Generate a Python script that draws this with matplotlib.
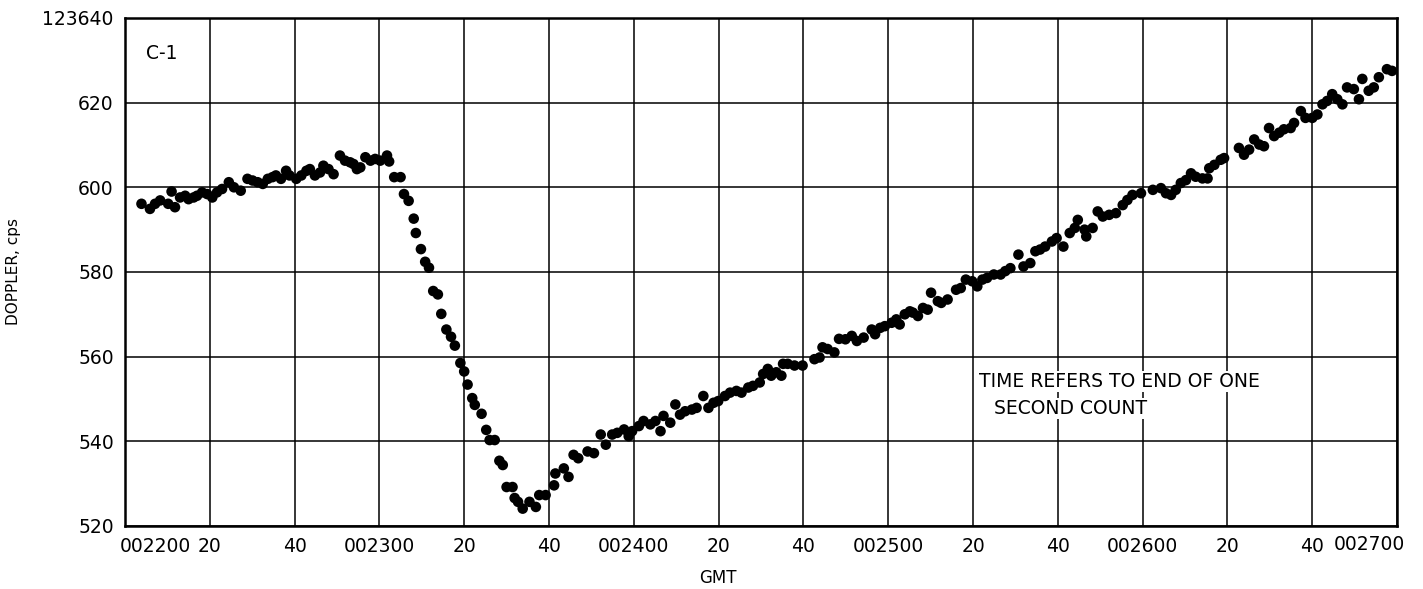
import numpy as np
import matplotlib
matplotlib.use("Agg")
import matplotlib.pyplot as plt
import matplotlib.transforms as mtransforms

# =====================
# data: seconds after 002200 GMT, doppler (cps, offset 123xxx)
# =====================
t_a = [3.9, 5.9, 7.1, 8.3, 11.0, 10.2, 11.8, 13.0, 14.2, 15.0, 16.2, 17.0, 18.2, 19.4,
       20.6, 21.7, 22.9, 24.5, 25.7, 27.3, 28.9, 30.1, 31.3, 32.5, 33.7, 34.8, 35.6,
       36.8, 38.0, 38.8, 40.4, 41.6, 42.8, 43.6, 44.8, 46.0, 46.8, 48.0, 49.2, 50.7,
       51.9, 53.1, 53.9, 54.7, 55.5, 56.7, 57.9, 59.0, 60.2, 61.8]
v_a = [596.1, 594.9, 596.1, 596.9, 599.0, 596.1, 595.3, 597.6, 598.0, 597.2, 597.6, 598.0, 598.8, 598.4,
       597.6, 598.8, 599.6, 601.2, 600.0, 599.2, 602.0, 601.6, 601.2, 600.8, 602.0, 602.4, 602.8,
       602.0, 603.9, 602.8, 602.0, 602.8, 603.9, 604.3, 602.8, 603.5, 605.1, 604.3, 603.1, 607.5,
       606.3, 605.9, 605.5, 604.3, 604.7, 607.1, 606.3, 606.7, 606.3, 607.5]

t_b = [62.3, 63.5, 65.0, 65.8, 66.9, 68.1, 68.6, 69.8, 70.8, 71.7, 72.7, 73.8, 74.6, 75.8,
       76.9, 77.8, 79.1, 80.0, 80.8, 81.9, 82.5, 84.1, 85.2, 86.0, 87.2, 88.3, 89.1, 90.0,
       91.4, 91.9, 92.7, 93.8, 95.4, 96.9, 97.7, 99.2, 101.2, 101.5, 103.5, 104.6, 105.8, 106.9]
v_b = [606.1, 602.4, 602.4, 598.4, 596.8, 592.6, 589.2, 585.4, 582.4, 581.0, 575.5, 574.7, 570.1, 566.4,
       564.7, 562.6, 558.5, 556.5, 553.4, 550.2, 548.6, 546.5, 542.7, 540.3, 540.3, 535.4, 534.4, 529.2,
       529.2, 526.6, 525.7, 524.1, 525.7, 524.5, 527.3, 527.3, 529.6, 532.4, 533.6, 531.6, 536.8, 536.0]

t_c = [109.1, 110.6, 112.2, 113.4, 114.9, 116.1, 117.7, 118.8, 119.6, 121.2, 122.3, 123.9, 125.1,
       126.3, 127.0, 128.6, 129.8, 130.9, 132.1, 133.7, 134.8, 136.4, 137.6, 138.8, 139.9, 141.5,
       142.7, 144.2, 145.4, 147.0, 148.1, 149.7, 150.5, 151.6, 152.4, 153.6, 154.8, 155.2, 156.3,
       157.9, 159.8, 162.6, 163.8, 164.5, 165.7, 167.3, 168.4]
v_c = [537.6, 537.2, 541.6, 539.2, 541.6, 542.0, 542.8, 541.2, 542.4, 543.6, 544.8, 544.0, 544.8,
       542.4, 546.0, 544.4, 548.7, 546.3, 547.1, 547.5, 547.9, 550.7, 547.9, 549.1, 549.5, 550.7,
       551.5, 551.9, 551.5, 552.7, 553.1, 553.9, 555.9, 557.1, 555.5, 556.3, 555.5, 558.3, 558.3,
       557.9, 557.9, 559.4, 559.8, 562.2, 561.8, 561.0, 564.2]

t_d = [169.9, 171.4, 172.6, 174.2, 176.1, 176.9, 178.1, 179.2, 180.8, 181.9, 182.7, 183.9, 185.1,
       185.8, 187.0, 188.2, 189.3, 190.1, 191.7, 192.5, 194.0, 196.0, 197.1, 198.3, 199.8, 201.0,
       202.2, 203.3, 204.9, 206.5, 207.6, 208.8, 210.7, 211.9, 213.5, 214.7, 215.8, 217.0, 218.6,
       219.7, 221.3, 222.8, 224.0, 224.7, 226.3, 226.7, 228.2, 229.4, 230.6, 232.1, 233.7, 235.3,
       236.4, 237.6]
v_d = [564.1, 564.9, 563.7, 564.5, 566.4, 565.3, 566.8, 567.2, 568.0, 568.8, 567.6, 570.0, 570.7,
       570.4, 569.6, 571.5, 571.1, 575.1, 573.1, 572.7, 573.5, 575.8, 576.2, 578.2, 577.8, 576.6,
       578.2, 578.6, 579.4, 579.4, 580.2, 580.9, 584.1, 581.3, 582.1, 584.9, 585.3, 586.0, 587.2,
       588.0, 586.0, 589.2, 590.4, 592.3, 590.0, 588.4, 590.4, 594.3, 593.1, 593.5, 593.9, 595.8,
       597.0, 598.2]

t_e = [239.6, 242.4, 244.3, 245.5, 246.7, 247.8, 249.0, 250.2, 251.4, 252.5, 254.1, 255.3, 255.7,
       256.9, 258.4, 259.2, 262.7, 263.9, 265.1, 266.3, 267.5, 268.6, 269.8, 271.0, 272.2, 273.3,
       274.9, 275.7, 277.3, 278.4, 280.0, 281.2, 282.4, 283.5, 284.7, 285.9, 287.1, 288.2, 289.8,
       291.0, 291.8, 293.3, 294.5, 295.7, 297.6, 298.8]
v_e = [598.6, 599.4, 599.8, 598.6, 598.2, 599.4, 601.0, 601.7, 603.3, 602.5, 602.1, 602.1, 604.5,
       605.3, 606.5, 606.9, 609.3, 607.7, 608.9, 611.3, 610.1, 609.7, 614.0, 612.1, 612.9, 613.7,
       614.0, 615.2, 618.0, 616.4, 616.4, 617.2, 619.6, 620.4, 622.0, 620.8, 619.6, 623.6, 623.2,
       620.8, 625.6, 622.8, 623.6, 626.0, 627.9, 627.5]

x_ticks = [0, 20, 40, 60, 80, 100, 120, 140, 160, 180, 200, 220, 240, 260, 280, 300]
x_labels = ["002200", "20", "40", "002300", "20", "40", "002400", "20", "40",
            "002500", "20", "40", "002600", "20", "40", "002700"]
y_ticks = [520, 540, 560, 580, 600, 620, 640]
y_labels = ["520", "540", "560", "580", "600", "620", "123640"]

t_all = np.concatenate([t_a, t_b, t_c, t_d, t_e])
v_all = np.concatenate([v_a, v_b, v_c, v_d, v_e])

# =====================
# plot
# =====================
fig = plt.figure(figsize=(14.23, 5.89), dpi=100)
ax = fig.add_axes([0.0878, 0.107, 0.894, 0.8625])

ax.scatter(t_all, v_all, s=58, c="black", edgecolors="none", zorder=3)

ax.set_xlim(0, 300)
ax.set_ylim(520, 640)
ax.set_xticks(x_ticks)
ax.set_xticklabels(x_labels, fontsize=13.5)
ax.set_yticks(y_ticks)
ax.set_yticklabels(y_labels, fontsize=13.5)
ax.tick_params(length=0, pad=8)

# end labels sit off-centre like the original lettering
labels = ax.get_xticklabels()
labels[0].set_ha("left")
labels[0].set_transform(labels[0].get_transform() +
                        mtransforms.ScaledTranslation(-0.05, 0, fig.dpi_scale_trans))
labels[-1].set_ha("right")
labels[-1].set_transform(labels[-1].get_transform() +
                         mtransforms.ScaledTranslation(0.08, 0.02, fig.dpi_scale_trans))

ax.grid(True, color="black", linewidth=1.1)
for s in ax.spines.values():
    s.set_linewidth(1.8)

ax.set_xlabel("GMT", fontsize=12)
ax.xaxis.set_label_coords(0.466, -0.085)
ax.set_ylabel("DOPPLER, cps", fontsize=11)
ax.yaxis.set_label_coords(-0.082, 0.5)

ax.text(8.7, 631.5, "C-1", fontsize=13.5, ha="center", va="center")
ax.text(0.671, 0.303, "TIME REFERS TO END OF ONE", fontsize=13.5,
        ha="left", va="top", transform=ax.transAxes,
        bbox=dict(facecolor="white", edgecolor="none", pad=1))
ax.text(0.683, 0.25, "SECOND COUNT", fontsize=13.5,
        ha="left", va="top", transform=ax.transAxes,
        bbox=dict(facecolor="white", edgecolor="none", pad=1))

fig.savefig("out.png", dpi=100)
